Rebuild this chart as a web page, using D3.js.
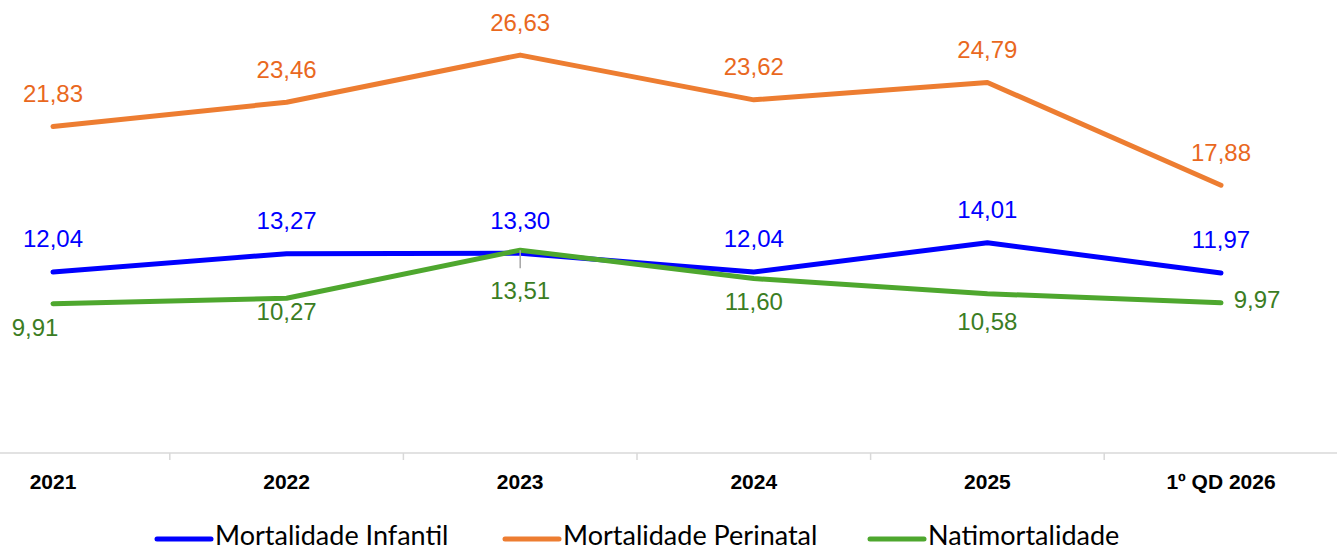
<!DOCTYPE html>
<html>
<head>
<meta charset="utf-8">
<script src="https://cdn.jsdelivr.net/npm/d3@7"></script>
<style>
  body { margin: 0; background: #fff; }
  svg { display: block; }
</style>
</head>
<body>
<div id="chart"></div>
<script>
// categories and series
const categories = ["2021", "2022", "2023", "2024", "2025", "1º QD 2026"]
const infantil = [12.04, 13.27, 13.30, 12.04, 14.01, 11.97]
const perinatal = [21.83, 23.46, 26.63, 23.62, 24.79, 17.88]
const natimortalidade = [9.91, 10.27, 13.51, 11.60, 10.58, 9.97]
const seriesNames = ["Mortalidade Infantil", "Mortalidade Perinatal", "Natimortalidade"]

let width = 1337
let height = 552

// label offsets (px) relative to each point
const greenLabelOffsets = [[-18, 24], [0, 13], [0, 40], [0, 23], [0, 28], [36, -3]]

const fmt = v => d3.format(".2f")(v).replace(".", ",")

let svg = d3.select("#chart")
    .append("svg")
    .attr("width", width)
    .attr("height", height)

let x = d3.scaleBand()
    .domain(categories)
    .range([-63.8, 1337.8])

let y = d3.scaleLinear()
    .domain([0, 30])
    .range([451, 5])

const cx = c => x(c) + x.bandwidth() / 2

// category axis
let axis = svg.append("g")
    .attr("transform", "translate(0,453)")

axis.append("line")
    .attr("x1", 0).attr("x2", width)
    .attr("stroke", "#d9d9d9").attr("stroke-width", 1.5)

axis.selectAll(".tick")
    .data(categories.slice(1))
    .enter()
    .append("line")
    .attr("x1", d => x(d)).attr("x2", d => x(d))
    .attr("y1", 0).attr("y2", 7)
    .attr("stroke", "#d9d9d9").attr("stroke-width", 1.5)

axis.selectAll(".cat")
    .data(categories)
    .enter()
    .append("text")
    .attr("x", d => cx(d))
    .attr("y", 36)
    .attr("text-anchor", "middle")
    .attr("font-family", "'Liberation Sans', Arial, sans-serif")
    .attr("font-weight", "bold")
    .attr("font-size", 21)
    .attr("fill", "#000")
    .text(d => d)

const series = [
    { name: seriesNames[1], values: perinatal, color: "#ED7D31", text: "#E9681E" },
    { name: seriesNames[0], values: infantil, color: "#0000FF", text: "#0000FF" },
    { name: seriesNames[2], values: natimortalidade, color: "#4EA72E", text: "#3B7D23" }
]

let line = d3.line()
    .x((d, i) => cx(categories[i]))
    .y(d => y(d))

svg.selectAll(".series")
    .data(series)
    .enter()
    .append("path")
    .attr("fill", "none")
    .attr("stroke", d => d.color)
    .attr("stroke-width", 5)
    .attr("stroke-linecap", "round")
    .attr("stroke-linejoin", "round")
    .attr("d", d => line(d.values))

// small leader tick under 2023
svg.append("line")
    .attr("x1", cx("2023")).attr("x2", cx("2023"))
    .attr("y1", y(natimortalidade[2])).attr("y2", y(natimortalidade[2]) + 18)
    .attr("stroke", "#a6a6a6").attr("stroke-width", 1.5)

// data labels
series.forEach(s => {
    svg.selectAll(null)
        .data(s.values)
        .enter()
        .append("text")
        .attr("x", (d, i) => {
            if (s.name === seriesNames[2]) return cx(categories[i]) + greenLabelOffsets[i][0]
            return cx(categories[i])
        })
        .attr("y", (d, i) => {
            if (s.name === seriesNames[2]) return y(d) + greenLabelOffsets[i][1]
            return y(d) - 33
        })
        .attr("dy", "0.35em")
        .attr("text-anchor", "middle")
        .attr("font-family", "'Liberation Sans', Arial, sans-serif")
        .attr("font-size", 24)
        .attr("fill", s.text)
        .text(d => fmt(d))
})

// legend
const legendItems = [
    { name: seriesNames[0], color: "#0000FF", x: 157 },
    { name: seriesNames[1], color: "#ED7D31", x: 505 },
    { name: seriesNames[2], color: "#4EA72E", x: 870 }
]

let legend = svg.append("g")
    .attr("transform", "translate(0,539)")

legendItems.forEach(item => {
    legend.append("line")
        .attr("x1", item.x).attr("x2", item.x + 54)
        .attr("stroke", item.color)
        .attr("stroke-width", 5)
        .attr("stroke-linecap", "round")
    legend.append("text")
        .attr("x", item.x + 58)
        .attr("y", -3)
        .attr("dy", "0.35em")
        .attr("font-family", "Lato, 'Open Sans', sans-serif")
        .attr("font-size", 27)
        .attr("fill", "#000")
        .text(item.name)
})
</script>
</body>
</html>
